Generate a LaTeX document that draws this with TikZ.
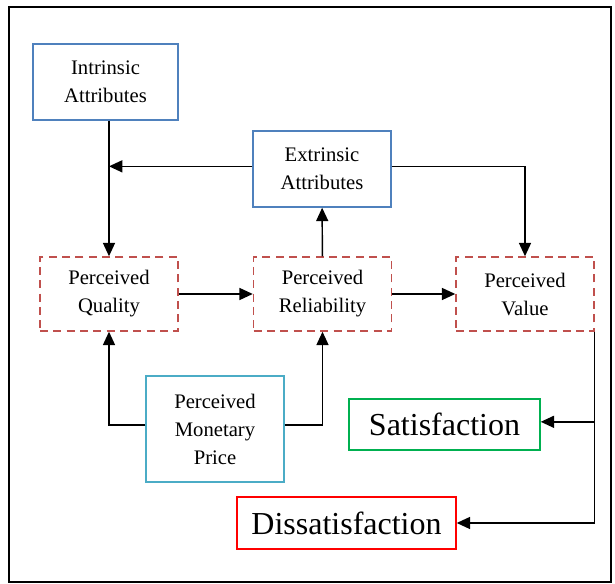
\documentclass[tikz,border=0pt]{standalone}
\usepackage{fontspec}
\setmainfont{Liberation Serif}
\usepackage{xcolor}
\usetikzlibrary{arrows.meta,positioning}
\definecolor{boxblue}{HTML}{4F81BD}
\definecolor{boxred}{HTML}{C0504D}
\definecolor{boxcyan}{HTML}{4BACC6}
\definecolor{boxgreen}{HTML}{00B050}

\begin{document}
\begin{tikzpicture}[
    x=0.75pt, y=-0.75pt,
    box/.style={draw, align=center, line width=1.1pt, inner sep=2pt,
                font=\fontsize{15.5}{21}\selectfont},
    attr/.style={box, draw=boxblue},
    perc/.style={box, draw=boxred, dash pattern=on 6pt off 4pt,
                 minimum width=103.5pt, minimum height=55.5pt},
    price/.style={box, draw=boxcyan},
    resbox/.style={box, font=\fontsize{24}{28}\selectfont},
    arr/.style={-{Triangle[length=10pt, width=9pt]}, line width=1.1pt},
  ]
  \useasboundingbox (0,0) rectangle (615,584);
  \draw[line width=1.6pt] (9,7) rectangle (611,582);

  \node[attr, minimum width=108.75pt, minimum height=57pt] (intr) at (105.5,82) {Intrinsic\\ Attributes};
  \node[attr, minimum width=103.5pt, minimum height=57pt] (extr) at (322,169) {Extrinsic\\ Attributes};
  \node[perc] (qual) at (109,294) {Perceived\\ Quality};
  \node[perc] (rel) at (322.5,294) {Perceived\\ Reliability};
  \node[perc] (val) at (525,294) {Perceived\\ Value};
  \node[price, minimum width=103.5pt, minimum height=79.5pt] (mprice) at (215,429) {Perceived\\ Monetary\\ Price};
  \node[resbox, draw=boxgreen, minimum width=143.25pt, minimum height=38.25pt] (sat) at (444.5,424.5) {Satisfaction};
  \node[resbox, draw=red, minimum width=164.25pt, minimum height=39pt] (dis) at (346.5,523) {Dissatisfaction};

  \coordinate (extrw) at ([yshift=2pt]extr.west);
  \coordinate (extre) at ([yshift=2pt]extr.east);
  \coordinate (pricew) at ([yshift=3pt]mprice.west);
  \coordinate (pricee) at ([yshift=3pt]mprice.east);
  \coordinate (sate) at ([yshift=2pt]sat.east);

  \draw[arr] (qual.north |- intr.south) -- (qual.north);
  \draw[arr] (extrw) -- (qual.north |- extrw);
  \draw[arr] (extre) -| (val.north);
  \draw[arr] (rel) -- (extr);
  \draw[arr] (qual) -- (rel);
  \draw[arr] (rel) -- (val);
  \draw[arr] (pricew) -| (qual.south);
  \draw[arr] (pricee) -| (rel.south);
  \draw[arr] (val.south east) |- (sate);
  \draw[arr] (val.south east) |- (dis.east);
\end{tikzpicture}
\end{document}
